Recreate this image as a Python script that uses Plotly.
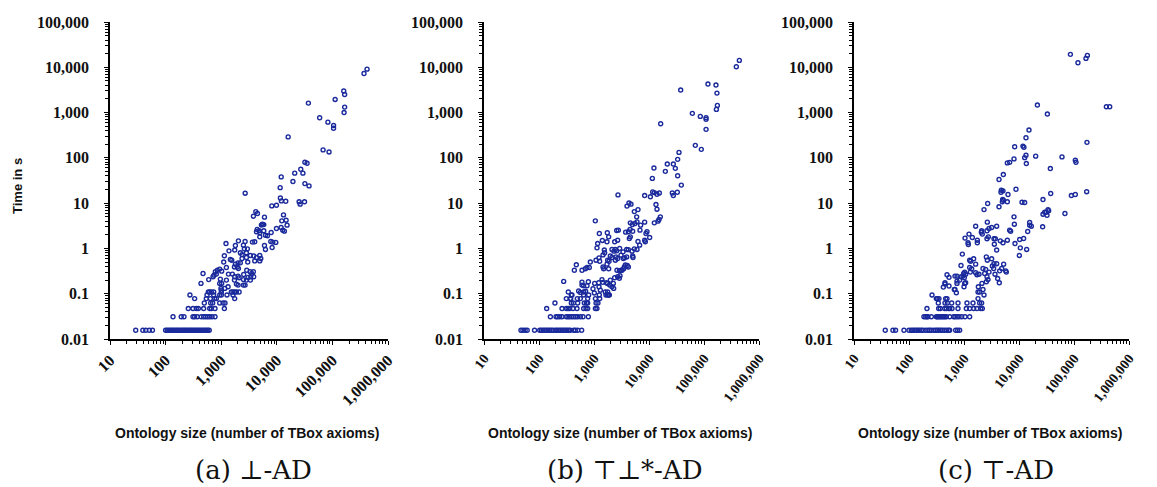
import plotly.graph_objects as go

# ---------------- data: (ontology size, time in s) ----------------
panel_a = [
    (29, 0.0156), (39, 0.0156), (44, 0.0156), (51, 0.0156), (58, 0.0156), (100, 0.0156), (107, 0.0156),
    (114, 0.0156), (122, 0.0156), (130, 0.0156), (138, 0.0156), (148, 0.0156), (158, 0.0156), (168, 0.0156),
    (180, 0.0156), (192, 0.0156), (205, 0.0156), (218, 0.0156), (232, 0.0156), (248, 0.0156), (265, 0.0156),
    (282, 0.0156), (300, 0.0156), (320, 0.0156), (342, 0.0156), (365, 0.0156), (390, 0.0156), (415, 0.0156),
    (445, 0.0156), (475, 0.0156), (505, 0.0156), (540, 0.0156), (575, 0.0156), (610, 0.0156),
    (136, 0.031), (191, 0.031), (214, 0.031), (311, 0.031), (333, 0.031), (372, 0.031), (439, 0.031),
    (484, 0.031), (526, 0.031), (571, 0.031), (621, 0.031), (684, 0.031), (774, 0.031),
    (256, 0.047), (311, 0.047), (357, 0.047), (388, 0.047), (484, 0.047), (621, 0.047), (665, 0.047),
    (774, 0.047), (1140, 0.047),
    (497, 0.0625), (647, 0.0625), (703, 0.0625), (940, 0.0625), (1080, 0.0625), (1170, 0.0625),
    (333, 0.078), (540, 0.078), (638, 0.078), (764, 0.078), (818, 0.078), (1750, 0.078),
    (274, 0.094), (556, 0.094), (733, 0.094), (940, 0.094), (1007, 0.094), (1270, 0.094), (1630, 0.094),
    (587, 0.109), (621, 0.109), (665, 0.109), (733, 0.109), (1007, 0.109), (1520, 0.109), (1630, 0.109),
    (1750, 0.109), (1880, 0.109), (2100, 0.109),
    (1330, 0.142), (990, 0.131), (1160, 0.131), (2510, 0.155), (2690, 0.155), (1880, 0.163), (2010, 0.155),
    (433, 0.169), (940, 0.169), (1020, 0.169), (966, 0.21), (1730, 0.20), (1240, 0.20), (2510, 0.205),
    (2840, 0.20), (3350, 0.20), (596, 0.205), (471, 0.28), (713, 0.237), (743, 0.257), (818, 0.271),
    (1020, 0.315), (1350, 0.271), (1590, 0.271), (1750, 0.237), (2010, 0.245), (2100, 0.225), (2540, 0.266),
    (2880, 0.33), (3310, 0.305), (3550, 0.28), (3800, 0.305), (3400, 0.237), (3040, 0.229), (3850, 0.237),
    (1007, 0.12), (940, 0.35), (853, 0.33), (785, 0.305), (1240, 0.38), (1730, 0.39), (1950, 0.39),
    (2040, 0.36), (1110, 0.50), (2010, 0.48), (2210, 0.48), (1800, 0.45), (3000, 0.50), (4010, 0.53),
    (4940, 0.53), (5150, 0.60), (4940, 0.70), (4300, 0.63), (3850, 0.68), (3350, 0.70), (2840, 0.63),
    (2370, 0.60), (1460, 0.57), (1550, 0.55), (1140, 0.69), (2370, 0.73), (2210, 0.80), (2840, 0.80),
    (1380, 0.885), (1750, 0.92), (2610, 0.98), (2960, 0.98), (1800, 1.16), (2510, 1.18), (1220, 1.28),
    (6250, 0.95), (8240, 1.05), (6000, 1.16), (7800, 1.42), (8470, 1.38), (9590, 1.36), (3650, 1.38),
    (4010, 1.40), (2690, 1.42), (2040, 1.47), (4940, 1.80), (6250, 1.96), (6790, 1.90), (7910, 2.25),
    (4430, 2.62), (4810, 2.45), (4300, 2.33), (4940, 2.22), (5830, 2.45), (9860, 2.75), (11970, 2.9),
    (12800, 2.53), (13700, 2.41), (5520, 3.44), (5830, 3.36), (5290, 3.3), (15300, 3.27), (4190, 6.5),
    (4490, 5.9), (3800, 5.15), (6000, 4.9), (13200, 5.5), (14700, 4.2), (12300, 4.06), (12100, 11.2),
    (14500, 11.0), (9860, 9.0), (8130, 8.7), (25200, 10.7), (26300, 9.5), (31500, 10.7),
    (420000, 9100), (370000, 7300), (160000, 3000), (166000, 2500), (112000, 1950), (37000, 1620),
    (166000, 1320), (162000, 1000), (59000, 770), (83000, 615), (105000, 520), (105000, 450), (16000, 290),
    (68000, 150), (87000, 135), (32000, 80), (35000, 76), (27000, 56), (29500, 46), (21000, 46),
    (12000, 38), (19500, 30), (32000, 27), (38000, 24), (11500, 22), (2700, 16.6), (11600, 13),
]

panel_b = [
    (47, 0.0156), (51, 0.0156), (56, 0.0156), (61, 0.0156), (83, 0.0156), (103, 0.0156), (110, 0.0156),
    (118, 0.0156), (127, 0.0156), (136, 0.0156), (146, 0.0156), (156, 0.0156), (168, 0.0156), (180, 0.0156),
    (198, 0.0156), (212, 0.0156), (228, 0.0156), (244, 0.0156), (262, 0.0156), (281, 0.0156), (301, 0.0156),
    (323, 0.0156), (346, 0.0156), (371, 0.0156), (427, 0.0156), (458, 0.0156), (505, 0.0156), (596, 0.0156),
    (161, 0.031), (204, 0.031), (218, 0.031), (238, 0.031), (262, 0.031), (314, 0.031), (337, 0.031),
    (361, 0.031), (393, 0.031), (427, 0.031), (464, 0.031), (505, 0.031), (565, 0.031), (631, 0.031),
    (789, 0.031),
    (138, 0.047), (262, 0.047), (314, 0.047), (337, 0.047), (361, 0.047), (415, 0.047), (491, 0.047),
    (649, 0.047), (716, 0.047), (767, 0.047), (1060, 0.047), (1130, 0.047),
    (195, 0.0625), (387, 0.0625), (421, 0.0625), (505, 0.0625), (667, 0.0625), (726, 0.0625), (767, 0.0625),
    (1090, 0.0625), (1180, 0.0625),
    (314, 0.078), (371, 0.078), (497, 0.078), (565, 0.078), (767, 0.078), (1060, 0.078), (1270, 0.078),
    (377, 0.078),
    (387, 0.094), (398, 0.094), (649, 0.094), (800, 0.094), (1250, 0.094), (1650, 0.094), (1850, 0.094),
    (1770, 0.094),
    (2730, 15.2), (8340, 14.7), (11660, 17.7), (12500, 17.1), (13970, 15.7), (15420, 16.8), (26550, 16.8),
    (27700, 14.7), (32700, 17.4), (4328, 10.1), (3981, 8.6), (4706, 9.5), (6310, 7.2), (5408, 6.5),
    (13400, 9.3), (13970, 7.35), (16070, 4.98), (15200, 4.35), (14590, 4.0), (12500, 3.67), (8340, 3.8),
    (5969, 4.98), (6053, 3.86), (5559, 3.55), (4976, 3.37), (4576, 3.67), (4513, 2.62), (5046, 2.40),
    (7049, 3.27), (6856, 2.53), (8810, 2.14), (9200, 2.33), (10280, 1.74), (8340, 1.52), (8570, 1.40),
    (6310, 1.42), (6761, 1.18), (6053, 0.95), (5408, 0.98), (4209, 0.94), (3925, 0.95), (4907, 0.87),
    (5046, 0.68), (5117, 0.63), (3610, 0.62), (3712, 0.43), (4037, 0.42), (3462, 0.355), (3229, 0.33),
    (3560, 0.39), (2888, 0.32), (3097, 0.33), (2618, 0.33), (2970, 0.25), (2692, 0.237), (2888, 0.22),
    (2377, 0.225), (2247, 0.169), (2123, 0.142), (1981, 0.20), (1770, 0.169), (1927, 0.155), (1675, 0.175),
    (1438, 0.178), (1397, 0.205), (1216, 0.175), (1028, 0.169), (789, 0.184), (746, 0.15), (605, 0.18),
    (605, 0.155), (649, 0.15), (526, 0.115), (565, 0.107), (649, 0.109), (705, 0.113), (959, 0.129),
    (1014, 0.104), (1233, 0.142), (1303, 0.12), (1607, 0.109), (1770, 0.109), (1901, 0.094), (2279, 0.131),
    (1057, 4.06), (1250, 2.14), (1166, 1.28), (1134, 1.03), (1418, 1.50), (1746, 2.22), (1849, 1.80),
    (1722, 1.40), (2583, 2.49), (2768, 2.53), (2692, 1.52), (2377, 1.40), (2311, 0.87), (2444, 0.95),
    (2583, 0.885), (2512, 0.65), (2692, 0.60), (2444, 0.55), (2123, 0.95), (1981, 0.68), (2123, 0.63),
    (1875, 0.52), (1770, 0.55), (1722, 0.45), (1849, 0.355), (1499, 0.355), (1458, 0.39), (1268, 0.52),
    (1541, 0.92), (1563, 0.80), (1458, 0.72), (1233, 0.62), (1087, 0.55), (857, 0.50), (822, 0.38),
    (746, 0.38), (696, 0.355), (605, 0.33), (439, 0.33), (477, 0.435), (281, 0.187), (341, 0.109),
    (4209, 2.33), (3764, 2.29), (4576, 1.80), (4389, 1.66), (3367, 0.84), (2928, 1.0), (3097, 0.71),
    (3414, 0.60), (3925, 0.65), (4209, 0.39),
    (439000, 14200), (387000, 10260), (118000, 4260), (165000, 4050), (172000, 2690), (37700, 3140),
    (175000, 1440), (168000, 1175), (61400, 960), (85700, 824), (109000, 767), (109000, 708), (16300, 566),
    (109000, 426), (69500, 189), (89300, 154), (35100, 132), (33200, 92.6), (21500, 73), (27700, 73),
    (30100, 58.6), (12300, 59.6), (19800, 50.3), (33200, 40.3), (11500, 35.2), (38700, 25), (10600, 13.8),
]

panel_c = [
    (37, 0.0156), (51, 0.0156), (57, 0.0156), (81, 0.0156), (100, 0.0156), (110, 0.0156), (118, 0.0156),
    (127, 0.0156), (136, 0.0156), (146, 0.0156), (156, 0.0156), (168, 0.0156), (180, 0.0156), (201, 0.0156),
    (221, 0.0156), (237, 0.0156), (254, 0.0156), (281, 0.0156), (306, 0.0156), (327, 0.0156), (351, 0.0156),
    (377, 0.0156), (403, 0.0156), (439, 0.0156), (477, 0.0156), (519, 0.0156), (549, 0.0156), (705, 0.0156),
    (767, 0.0156), (834, 0.0156),
    (187, 0.031), (201, 0.031), (212, 0.031), (221, 0.031), (255, 0.031), (314, 0.031), (327, 0.031),
    (341, 0.031), (361, 0.031), (382, 0.031), (403, 0.031), (427, 0.031), (451, 0.031), (477, 0.031),
    (549, 0.031), (649, 0.031), (686, 0.031), (746, 0.031), (811, 0.031), (907, 0.031), (1042, 0.031),
    (1268, 0.031),
    (212, 0.047), (346, 0.047), (371, 0.047), (445, 0.047), (477, 0.047), (526, 0.047), (549, 0.047),
    (605, 0.047), (778, 0.047), (1102, 0.047), (1268, 0.047), (1499, 0.047), (1722, 0.047), (2009, 0.047),
    (2153, 0.047),
    (341, 0.0625), (451, 0.0625), (497, 0.0625), (597, 0.0625), (778, 0.0625), (1134, 0.0625),
    (1458, 0.0625), (1927, 0.0625), (2094, 0.0625),
    (314, 0.078), (327, 0.078), (351, 0.078), (464, 0.078), (491, 0.078), (1799, 0.078),
    (262, 0.094), (2311, 0.094),
    (421, 0.14), (451, 0.174), (451, 0.163), (534, 0.148), (667, 0.124), (726, 0.105), (686, 0.124),
    (1000, 0.142), (1028, 0.169), (1072, 0.174), (746, 0.169), (834, 0.20), (895, 0.237), (959, 0.245),
    (1014, 0.225), (686, 0.245), (746, 0.245), (491, 0.262), (534, 0.23), (746, 0.19), (1799, 0.109),
    (1927, 0.109), (2213, 0.124), (1823, 0.142), (2123, 0.169), (2547, 0.184), (2730, 0.205), (2618, 0.237),
    (2851, 0.30), (2377, 0.28), (2478, 0.344), (2213, 0.36), (1875, 0.27), (1722, 0.262), (1629, 0.29),
    (1378, 0.355), (1268, 0.38), (1303, 0.30), (1028, 0.30), (1072, 0.27), (986, 0.28), (882, 0.42),
    (933, 0.75), (1268, 0.55), (1499, 0.59), (1321, 0.52), (1629, 0.45), (2547, 0.65), (2655, 0.55),
    (3185, 0.59), (3508, 0.46), (3275, 0.41), (3461, 0.36), (3663, 0.27), (4093, 0.216), (4387, 0.174),
    (4449, 0.32), (4842, 0.36), (5262, 0.45), (5727, 0.32), (5888, 0.30), (3926, 0.46), (3926, 0.92),
    (3564, 1.24), (3508, 1.63), (2618, 1.63), (2770, 1.80), (1747, 1.52), (1747, 1.33), (1418, 1.74),
    (1182, 1.33), (1199, 1.22), (1043, 1.69), (1233, 2.07), (1629, 3.1), (2094, 2.45), (2065, 2.29),
    (2153, 2.07), (2618, 2.45), (2851, 2.75), (3185, 2.9), (3926, 3.1), (2655, 3.8), (3715, 1.63),
    (4576, 1.47), (5117, 1.33), (6138, 1.52), (6761, 2.53), (7049, 2.4), (8460, 1.28), (10280, 1.57),
    (10570, 1.03), (12150, 1.66), (13780, 0.95), (10140, 0.70), (14390, 2.37), (15640, 3.73), (15640, 3.27),
    (16760, 3.1), (8110, 4.98), (8230, 3.43), (26900, 3.0), (27300, 5.7), (29300, 6.3), (31400, 6.3),
    (33700, 7.2), (34600, 6.8), (32300, 5.4), (37700, 16.3), (27300, 12), (68500, 5.9), (89500, 14.7),
    (105700, 15.5), (12680, 10.3), (11350, 10.5), (6310, 15.5), (6138, 10.7), (5190, 11.6), (4976, 10.7),
    (5046, 12.0), (4775, 19.3), (4706, 17.4), (5117, 18.7), (8810, 20.3), (4328, 33.2), (5190, 42.8),
    (2692, 9.8), (2311, 7.2), (4328, 8.3), (6138, 77.4), (6761, 79.6), (8110, 94.8), (12680, 101),
    (13400, 114), (13590, 74.8), (20100, 109), (37150, 58), (60500, 105), (105700, 88.5), (108700, 80),
    (86000, 19300), (118000, 12600), (165000, 15700), (175000, 18300), (388000, 1343), (446000, 1343),
    (21600, 1464), (32800, 927), (15200, 411), (13400, 278), (8350, 176), (11800, 182), (12300, 171),
    (172000, 220), (170000, 17.9),
]

x_tickvals = [10, 100, 1000, 10000, 100000, 1000000]
x_ticktext = ["10", "100", "1,000", "10,000", "100,000", "1,000,000"]
y_tickvals = [0.01, 0.1, 1, 10, 100, 1000, 10000, 100000]
y_ticktext = ["0.01", "0.1", "1", "10", "100", "1,000", "10,000", "100,000"]

captions = ["(a) ⊥-AD", "(b) ⊤⊥*-AD", "(c) ⊤-AD"]
x_title = "Ontology size (number of TBox axioms)"
y_title = "Time in s"

# ---------------- layout geometry ----------------
W, H = 1157, 487
x_domains_px = [(110, 388), (484, 759), (854, 1129)]
y_top_px, y_bot_px = 22, 339
y_domain = [1 - y_bot_px / H, 1 - y_top_px / H]

x_minor = [m * 10 ** k for k in range(1, 6) for m in range(2, 10)]
y_minor = [m * 10 ** k for k in range(-2, 5) for m in range(2, 10)]

MARK = "#1a2a9c"
tick_font = dict(family="Liberation Serif", size=16, color="#111111", weight="bold")
tick_font_small = dict(family="Liberation Serif", size=14, color="#111111", weight="bold")

fig = go.Figure()
panels = [panel_a, panel_b, panel_c]
for i, pts in enumerate(panels):
    sizes = [p[0] for p in pts]
    times = [p[1] for p in pts]
    sfx = "" if i == 0 else str(i + 1)
    fig.add_trace(go.Scatter(
        x=sizes, y=times, mode="markers",
        xaxis="x" + sfx, yaxis="y" + sfx,
        marker=dict(symbol="circle-open", size=4, color=MARK, line=dict(width=1.4, color=MARK)),
        showlegend=False, hoverinfo="skip",
    ))

layout = dict(
    width=W, height=H, margin=dict(l=0, r=0, t=0, b=0, autoexpand=False),
    paper_bgcolor="white", plot_bgcolor="white", showlegend=False,
)

for i, (x0, x1) in enumerate(x_domains_px):
    sfx = "" if i == 0 else str(i + 1)
    dom = [x0 / W, x1 / W]
    xf = tick_font if i == 0 else tick_font_small
    layout["xaxis" + sfx] = dict(
        type="log", range=[1, 6], domain=dom, anchor="y" + sfx, automargin=False,
        showline=True, linecolor="black", linewidth=1.5, showgrid=False, zeroline=False,
        ticks="outside", ticklen=4, tickwidth=1.3, tickcolor="black",
        tickmode="array", tickvals=x_tickvals, ticktext=x_ticktext,
        tickangle=-45 if i == 0 else -52, tickfont=xf,
        minor=dict(tickmode="array", tickvals=x_minor, ticks="outside", ticklen=3, tickwidth=1, tickcolor="black"),
    )
    layout["yaxis" + sfx] = dict(
        type="log", range=[-2, 5], domain=y_domain, anchor="x" + sfx, automargin=False,
        showline=True, linecolor="black", linewidth=1.5, showgrid=False, zeroline=False,
        ticks="outside", ticklen=4, tickwidth=1.3, tickcolor="black",
        tickmode="array", tickvals=y_tickvals, ticktext=y_ticktext, tickfont=tick_font,
        ticklabelstandoff=12,
        minor=dict(tickmode="array", tickvals=y_minor, ticks="outside", ticklen=3, tickwidth=1, tickcolor="black"),
    )
    # inner half of the crossing tick marks
    ox = "xaxis" + str(i + 4)
    oy = "yaxis" + str(i + 4)
    layout[ox] = dict(
        type="log", range=[1, 6], domain=dom, anchor="y" + sfx, overlaying="x" + sfx, automargin=False,
        showline=False, showgrid=False, zeroline=False, showticklabels=False,
        ticks="inside", ticklen=4, tickwidth=1.3, tickcolor="black",
        tickmode="array", tickvals=x_tickvals,
        minor=dict(tickmode="array", tickvals=x_minor, ticks="inside", ticklen=3, tickwidth=1, tickcolor="black"),
    )
    layout[oy] = dict(
        type="log", range=[-2, 5], domain=y_domain, anchor="x" + sfx, overlaying="y" + sfx, automargin=False,
        showline=False, showgrid=False, zeroline=False, showticklabels=False,
        ticks="inside", ticklen=4, tickwidth=1.3, tickcolor="black",
        tickmode="array", tickvals=y_tickvals,
        minor=dict(tickmode="array", tickvals=y_minor, ticks="inside", ticklen=3, tickwidth=1, tickcolor="black"),
    )

annotations = []
centers = [(x0 + x1) / 2 for x0, x1 in x_domains_px]
for i, c in enumerate(centers):
    annotations.append(dict(
        x=(c - 2) / W, y=1 - 433 / H, xref="paper", yref="paper", xanchor="center", yanchor="middle",
        text=x_title, showarrow=False,
        font=dict(family="Liberation Sans", size=14, color="#111111", weight="bold"),
    ))
    annotations.append(dict(
        x=(c + 4) / W, y=1 - 470 / H, xref="paper", yref="paper", xanchor="center", yanchor="middle",
        text=captions[i], showarrow=False,
        font=dict(family="DejaVu Serif", size=26, color="#111111"),
    ))
annotations.append(dict(
    x=17 / W, y=1 - 186 / H, xref="paper", yref="paper", xanchor="center", yanchor="middle",
    text=y_title, textangle=-90, showarrow=False,
    font=dict(family="Liberation Sans", size=13, color="#111111", weight="bold"),
))
layout["annotations"] = annotations

fig.update_layout(**layout)
fig.write_html("out.html", config={"displayModeBar": False},
               post_script="document.body.style.margin='0px';")
